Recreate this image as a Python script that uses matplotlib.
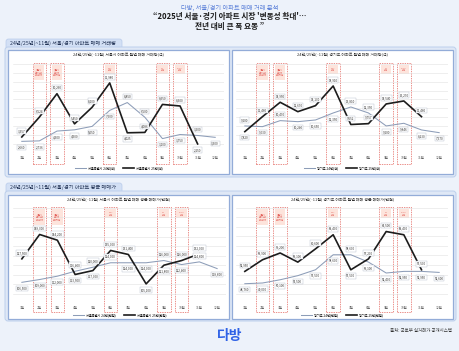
import numpy as np
import matplotlib
matplotlib.use("Agg")
import matplotlib.pyplot as plt
import matplotlib.transforms as mtrans
from matplotlib.patches import FancyBboxPatch, Rectangle

plt.rcParams['font.family'] = ['Noto Sans CJK KR', 'DejaVu Sans']

W, H = 460, 351

months = [f"{m}월" for m in range(1, 13)]
policy_months = [2, 3, 6, 9, 10]
policy_labels = ["서울시\n토지거래\n허가해제", "서울시\n토허제\n확대지정", "6.27\n대책", "9.7\n대책", "10.15\n대책"]

# 매매 거래량(건)
seoul_cnt_24 = [2660, 2736, 4300, 4500, 5050, 7600, 8850, 6500, 3100, 3750, 3600, 3300]
seoul_cnt_25 = [3357, 6524, 10260, 5450, 8100, 11980, 4025, 4086, 8550, 8300, 2250]
gg_cnt_24 = [9200, 9030, 10490, 10240, 10650, 12350, 13810, 12350, 9200, 9846, 8230, 7570]
gg_cnt_25 = [7820, 11460, 14950, 12670, 14130, 18910, 9552, 9757, 14540, 15270, 11460]

# 평균 매매가(만원)
seoul_price_24 = [106500, 109000, 112000, 116400, 120000, 124000, 124000, 124000, 126000, 122400, 124800, 118800]
seoul_price_25 = [127500, 149300, 144200, 113500, 117000, 135000, 131400, 105100, 121800, 126000, 132000]
gg_price_24 = [48760, 49000, 50100, 51500, 53500, 58600, 58600, 56100, 52400, 52950, 52950, 52600]
gg_price_25 = [52950, 56900, 59200, 56100, 60600, 65400, 53500, 57200, 66500, 65400, 53500]

BG = "#edf2fa"
C24 = "#8d9db8"
C25 = "#1c1c1c"
RED = "#e3645d"


def px_rect(x0, y0, x1, y1):
  return [x0 / W, 1 - y1 / H, (x1 - x0) / W, (y1 - y0) / H]


fig = plt.figure(figsize=(W / 100, H / 100), dpi=100)
fig.patch.set_facecolor(BG)
bg = fig.add_axes([0, 0, 1, 1])
bg.set_xlim(0, W); bg.set_ylim(H, 0); bg.axis("off")

bg.text(230, 7.3, "다방, 서울/경기 아파트 매매 거래 분석", ha="center", va="center",
        fontsize=4.5, color="#5a7fd8")
bg.text(230, 17, "“2025년 서울·경기 아파트 시장 '변동성 확대'…", ha="center", va="center",
        fontsize=5.5, fontweight="bold", color="#1b1b1b")
bg.text(230, 26.5, "전년 대비 큰 폭 요동 ”", ha="center", va="center",
        fontsize=5.5, fontweight="bold", color="#1b1b1b")


def section(y_tab, y0, y1, label):
  bg.add_patch(FancyBboxPatch((6, y_tab), 116, y0 - y_tab + 4,
                              boxstyle="round,pad=0,rounding_size=2.5",
                              fc="#d3e0f5", ec="#b8cbea", lw=0.5))
  bg.text(10, (y_tab + y0) / 2 + 0.3, label, fontsize=3.8, va="center", color="#223355")
  bg.add_patch(FancyBboxPatch((5, y0), 451, y1 - y0,
                              boxstyle="round,pad=0,rounding_size=3",
                              fc="#dfe8f6", ec="#bccfec", lw=0.7))


def chart(box, plot, title, names, s24, s25, ylim, pos24, pos25, dash_bot, leg_y):
  x0, y0, x1, y1 = box
  bg.add_patch(Rectangle((x0, y0), x1 - x0, y1 - y0, fc="white", ec="#93acd8", lw=0.9))
  bg.text((x0 + x1) / 2, y0 + 5.5, title, ha="center", va="center", fontsize=2.9, color="#333333")

  ax = fig.add_axes(px_rect(*plot))
  ax.patch.set_alpha(0)
  ax.set_xlim(0.5, 12.5)
  ax.set_ylim(*ylim)
  ax.set_yticks(np.linspace(ylim[0], ylim[1], 11))
  ax.yaxis.grid(True, color="#e2e2e2", lw=0.4)
  ax.tick_params(axis="y", left=False, labelleft=False)
  ax.set_xticks(range(1, 13))
  ax.set_xticklabels(months, fontsize=2.4, color="#666666")
  ax.tick_params(axis="x", length=0, pad=2.2)
  for s in ax.spines.values():
    s.set_visible(False)

  trans = mtrans.blended_transform_factory(ax.transData, ax.transAxes)
  for m, lab in zip(policy_months, policy_labels):
    ax.add_patch(Rectangle((m - 0.38, dash_bot), 0.76, 1.015 - dash_bot, transform=trans,
                           fill=False, ec=RED, lw=0.5, ls=(0, (2, 1.4)), clip_on=False))
    tall = lab.count("\n") == 2
    hgt = 0.16 if tall else 0.095
    ax.add_patch(Rectangle((m - 0.29, 0.985 - hgt), 0.58, hgt, transform=trans,
                           fc="#fde4dc", ec="none", clip_on=False))
    ax.text(m, 0.985 - hgt / 2, lab, transform=trans, ha="center", va="center",
            fontsize=1.6, color=RED, linespacing=1.2)

  x24 = np.arange(1, 13)
  x25 = np.arange(1, 12)
  ax.plot(x24, s24, color=C24, lw=0.75, label=names[0])
  ax.plot(x25, s25, color=C25, lw=1.2, label=names[1])

  box_kw = dict(boxstyle="square,pad=0.25", fc="white", ec="#b5bccb", lw=0.3)
  for xs, ys, pos in ((x24, s24, pos24), (x25, s25, pos25)):
    for x, y, p in zip(xs, ys, pos):
      ax.annotate(f"{y:,}", (x, y), xytext=(0, 6 * p), textcoords="offset pixels",
                  ha="center", va="center", fontsize=2.2, color="#333333", bbox=box_kw)

  ax.legend(loc="center", bbox_to_anchor=(0.5, leg_y), ncol=2, fontsize=2.3, frameon=False,
            handlelength=3.5, columnspacing=2.5, handletextpad=0.6)
  return ax


# 거래량
section(39, 47, 177, "24년/25년(~11월) 서울/경기 아파트 매매 거래량")
chart((8, 50, 229, 174), (13, 64, 224, 152.7),
      "24년/25년(~11월) 서울시 아파트 월별 매매 거래량(건)",
      ["서울특별시 24년(건)", "서울특별시 25년(건)"],
      seoul_cnt_24, seoul_cnt_25, (850, 15000),
      [-1, -1, -1, -1, -1, -1, 1, 1, -1, -1, 1, -1],
      [1, 1, 1, 1, 1, 1, -1, 1, 1, 1, -1], -0.127, -0.175)
chart((232, 50, 453, 174), (236, 64, 448, 152.7),
      "24년/25년(~11월) 경기도 아파트 월별 매매 거래량(건)",
      ["경기도 24년(건)", "경기도 25년(건)"],
      gg_cnt_24, gg_cnt_25, (2700, 24250),
      [1, -1, 1, -1, -1, -1, 1, 1, -1, -1, -1, -1],
      [-1, 1, 1, 1, 1, 1, 1, 1, 1, 1, 1], -0.127, -0.175)

# 평균 매매가
section(183, 191, 321, "24년/25년(~11월) 서울/경기 아파트 평균 매매가")
chart((8, 195, 229, 319), (13, 208, 226, 303),
      "24년/25년(~11월) 서울시 아파트 월별 매매 평균 매매가(만원)",
      ["서울특별시 24년(만원)", "서울특별시 25년(만원)"],
      seoul_price_24, seoul_price_25, (88000, 173000),
      [-1, -1, -1, 1, 1, 1, -1, -1, 1, -1, 1, -1],
      [1, 1, 1, -1, -1, 1, 1, -1, -1, 1, 1], -0.095, -0.126)
chart((232, 195, 453, 319), (236, 208, 448, 303),
      "24년/25년(~11월) 경기도 아파트 월별 매매 평균 매매가(만원)",
      ["경기도 24년(만원)", "경기도 25년(만원)"],
      gg_price_24, gg_price_25, (42200, 74500),
      [-1, -1, -1, -1, -1, -1, 1, -1, -1, -1, -1, -1],
      [1, 1, 1, 1, 1, 1, -1, 1, 1, 1, 1], -0.095, -0.126)

bg.text(230, 336, "다방", ha="center", va="center", fontsize=10, fontweight="bold", color="#2f62e6")
bg.text(452, 330, "출처: 국토부 실거래가 공개시스템", ha="right", va="center", fontsize=3.2, color="#333333")

fig.savefig("out.png", dpi=100, facecolor=BG)
